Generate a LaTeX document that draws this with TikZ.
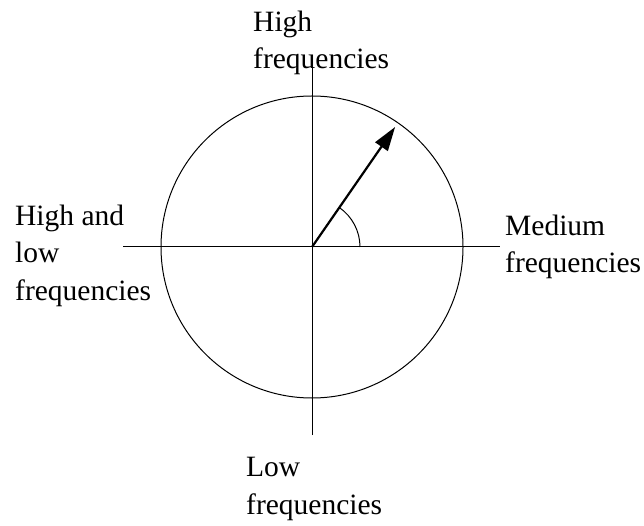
\documentclass[tikz,border=0pt]{standalone}
\usepackage{fontspec}
\setmainfont{Liberation Serif}
\usetikzlibrary{arrows.meta}
\begin{document}
\begin{tikzpicture}[x=1pt,y=1pt]
\useasboundingbox (0,0) rectangle (644,525);
\fontsize{29.5}{37.5}\selectfont
\coordinate (o) at (312,278);
\coordinate (west) at (123,278);
\coordinate (east) at (500,278);
\coordinate (north) at (312,460);
\coordinate (south) at (312,90);
\coordinate (tip) at ([shift={(55.3:146)}]o);
\node[align=left, inner sep=0, anchor=north west] (high) at (253,514.5) {High\\frequencies};
\node[align=left, inner sep=0, anchor=north west] (mixed) at (15,320.5) {High and\\low\\frequencies};
\node[align=left, inner sep=0, anchor=north west] (medium) at (505,310.5) {Medium\\frequencies};
\node[align=left, inner sep=0, anchor=north west] (low) at (246,68) {Low\\frequencies};
\draw[line width=1pt] (o) circle (151);
\draw[line width=1pt] (west) -- (east);
\draw[line width=1pt] (south) -- (north);
\draw[line width=2.2pt, -{Triangle[length=24pt,width=15pt]}] (o) -- (tip);
\draw[line width=1pt] ([shift={(0:48)}]o) arc (0:55.3:48);
\end{tikzpicture}
\end{document}
